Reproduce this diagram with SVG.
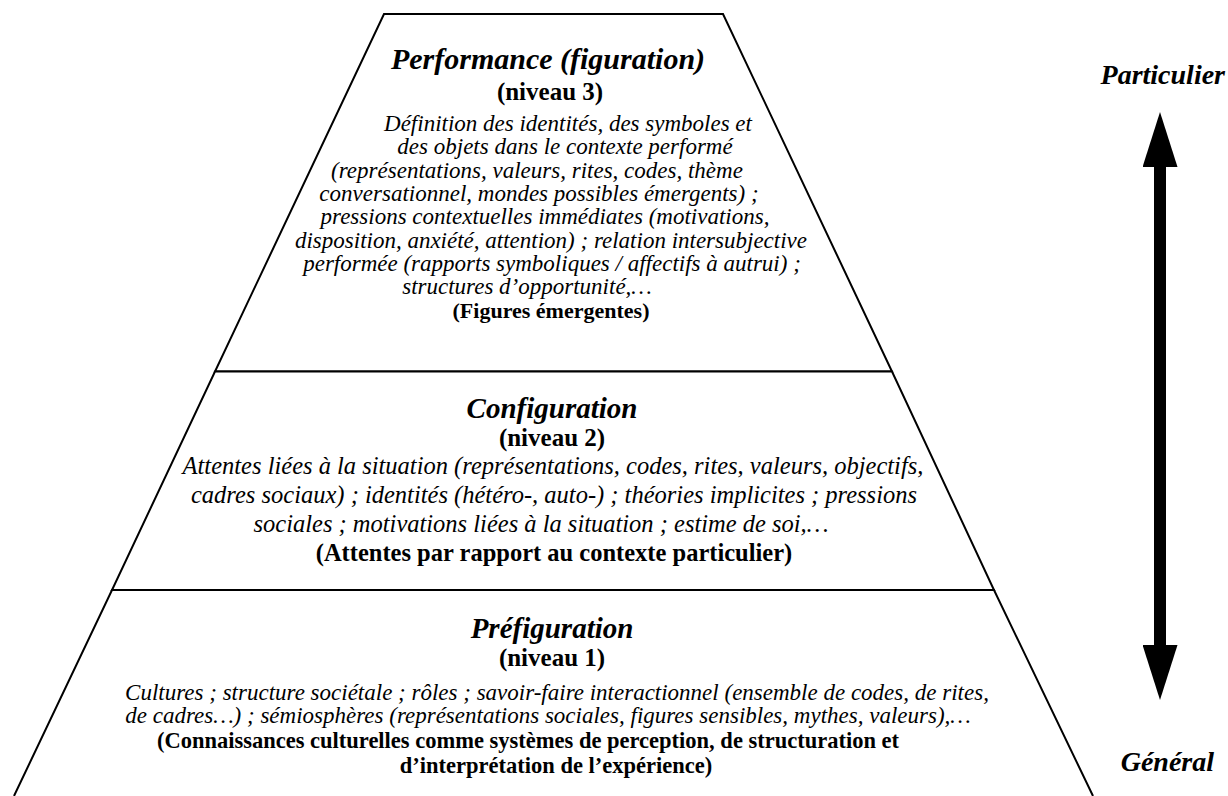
<svg xmlns="http://www.w3.org/2000/svg" width="1228" height="796" viewBox="0 0 1228 796">
<style>
.sec{fill:#fff;stroke:#000;stroke-width:2;stroke-linejoin:miter}
text{font-family:"Liberation Serif","Times New Roman",serif;fill:#000;text-anchor:middle}
.ttl{font-size:29px;font-weight:bold;font-style:italic}
.niv{font-size:25px;font-weight:bold}
.b3{font-size:23px;font-style:italic}
.b2{font-size:24.5px;font-style:italic}
.b1{font-size:23px;font-style:italic}
.bb{font-weight:bold;font-style:normal}
.lab{font-size:28px;font-weight:bold;font-style:italic}
</style>
<defs>
<marker id="ah" markerUnits="userSpaceOnUse" markerWidth="55" markerHeight="35" viewBox="0 0 55 35" refX="0" refY="17.5" orient="auto-start-reverse">
<path d="M0,0 L55,17.5 L0,35 Z" fill="#000"/>
</marker>
</defs>
<rect width="1228" height="796" fill="#fff"/>
<g id="niveau3">
<path class="sec" d="M384,14 L723,14 L892,371.5 L215,371.5 Z"/>
<text class="ttl" x="548" y="69" style="font-size:30px">Performance (figuration)</text>
<text class="niv" x="550" y="100">(niveau 3)</text>
<text class="b3" x="568" y="131">Définition des identités, des symboles et</text>
<text class="b3" x="565" y="154">des objets dans le contexte performé</text>
<text class="b3" x="537" y="178">(représentations, valeurs, rites, codes, thème</text>
<text class="b3" x="539" y="201">conversationnel, mondes possibles émergents) ;</text>
<text class="b3" x="545" y="224">pressions contextuelles immédiates (motivations,</text>
<text class="b3" x="551" y="248">disposition, anxiété, attention) ; relation intersubjective</text>
<text class="b3" x="552" y="271">performée (rapports symboliques / affectifs à autrui) ;</text>
<text class="b3" x="527" y="294">structures d’opportunité,…</text>
<text class="b3 bb" x="551" y="318" style="font-size:22px">(Figures émergentes)</text>
</g>
<g id="niveau2">
<path class="sec" d="M215,371.5 L892,371.5 L994,590 L112,590 Z"/>
<text class="ttl" x="552" y="418">Configuration</text>
<text class="niv" x="552" y="446">(niveau 2)</text>
<text class="b2" x="553" y="474">Attentes liées à la situation (représentations, codes, rites, valeurs, objectifs,</text>
<text class="b2" x="554" y="503">cadres sociaux) ; identités (hétéro-, auto-) ; théories implicites ; pressions</text>
<text class="b2" x="541" y="532">sociales ; motivations liées à la situation ; estime de soi,…</text>
<text class="b2 bb" x="554" y="561">(Attentes par rapport au contexte particulier)</text>
</g>
<g id="niveau1">
<path class="sec" d="M14,796 L112,590 L994,590 L1093,796"/>
<text class="ttl" x="552" y="638">Préfiguration</text>
<text class="niv" x="552" y="666">(niveau 1)</text>
<text class="b1" x="557" y="700">Cultures ; structure sociétale ; rôles ; savoir-faire interactionnel (ensemble de codes, de rites,</text>
<text class="b1" x="548" y="723">de cadres…) ; sémiosphères (représentations sociales, figures sensibles, mythes, valeurs),…</text>
<text class="b1 bb" x="528" y="748" style="font-size:22.5px">(Connaissances culturelles comme systèmes de perception, de structuration et</text>
<text class="b1 bb" x="556" y="773" style="font-size:22.5px">d’interprétation de l’expérience)</text>
</g>
<g id="label-particulier">
<text class="lab" x="1225" y="84" style="text-anchor:end">Particulier</text>
</g>
<g id="label-general">
<text class="lab" x="1214" y="771" style="text-anchor:end">Général</text>
</g>
<g id="connectors">
<line x1="1160" y1="167" x2="1160" y2="645" stroke="#000" stroke-width="12" marker-start="url(#ah)" marker-end="url(#ah)"/>
</g>
</svg>
